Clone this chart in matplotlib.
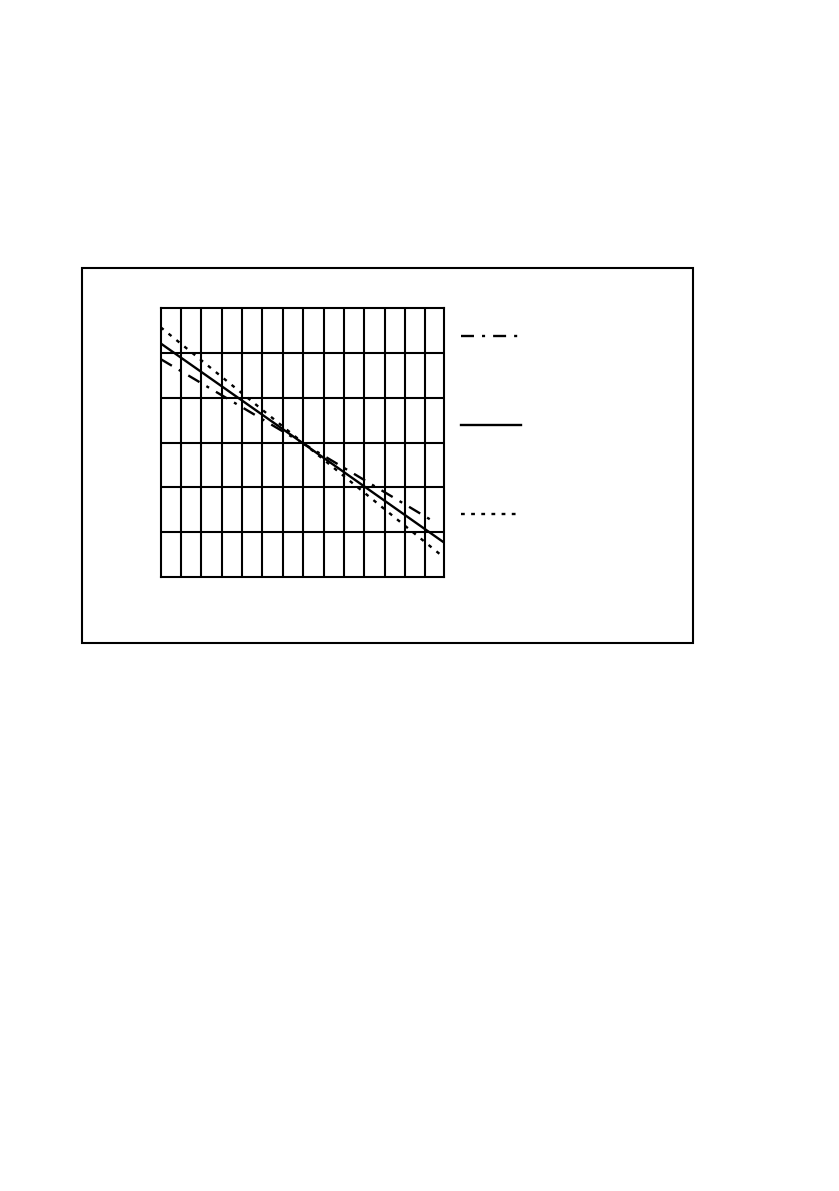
import matplotlib.pyplot as plt
from matplotlib.lines import Line2D
from matplotlib.patches import Rectangle

# Data (grid units: 14 columns x 6 rows)
solid_x = [0, 7, 13.92]
solid_y = [5.21, 2.98, 0.77]

dashdot_x = [0, 7, 13.55]
dashdot_y = [4.86, 2.98, 1.20]

dotted_x = [0, 7, 13.8]
dotted_y = [5.57, 2.99, 0.48]

x_grid = list(range(1, 14))
y_grid = list(range(1, 6))

dashdot_style = (0, (5.5, 3.4, 1.3, 3.4))
dotted_style = (0, (1.6, 2.7))
lw = 1.5
series_lw = 1.7

fig = plt.figure(figsize=(8.39, 11.91), dpi=100)

# Outer frame around the figure panel
fig.patches.append(Rectangle((0.0977, 0.460), 0.7284, 0.315, transform=fig.transFigure,
                             fill=False, edgecolor='black', linewidth=1.5))

ax = fig.add_axes([0.1915, 0.5155, 0.3377, 0.2259])
ax.set_xlim(0, 13.92)
ax.set_ylim(0, 6)

# Grid lines
for gx in x_grid:
    ax.axvline(gx, color='black', linewidth=lw, zorder=1)
for gy in y_grid:
    ax.axhline(gy, color='black', linewidth=lw, zorder=1)

for spine in ax.spines.values():
    spine.set_linewidth(lw)
ax.set_xticks([])
ax.set_yticks([])

# Series
ax.plot(dashdot_x, dashdot_y, color='black', linewidth=series_lw, linestyle=dashdot_style, zorder=3)
ax.plot(solid_x, solid_y, color='black', linewidth=series_lw, zorder=3)
ax.plot(dotted_x, dotted_y, color='black', linewidth=series_lw, linestyle=dotted_style, zorder=3)

# Legend with line samples only (no text)
handles = [
    Line2D([], [], color='black', linewidth=series_lw, linestyle=dashdot_style),
    Line2D([], [], color='black', linewidth=series_lw),
    Line2D([], [], color='black', linewidth=series_lw, linestyle=dotted_style),
]
ax.legend(handles, ['', '', ''], loc='upper left', bbox_to_anchor=(1.042, 0.94),
          frameon=False, fontsize=10, handlelength=4.3, labelspacing=5.4,
          borderaxespad=0, handletextpad=0)

plt.savefig('out.png', dpi=100)
